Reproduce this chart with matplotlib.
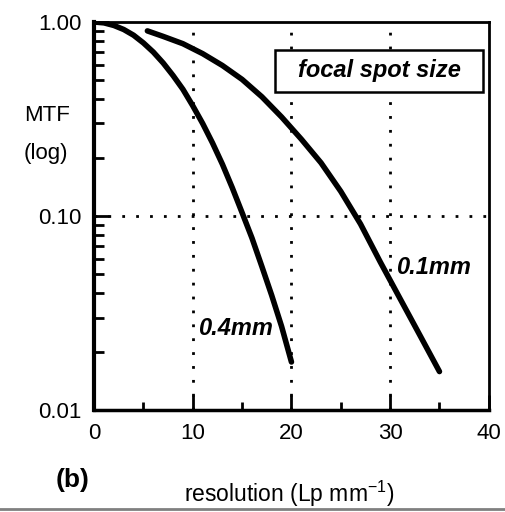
import numpy as np
import matplotlib
matplotlib.use('Agg')
import matplotlib.pyplot as plt
from matplotlib.ticker import FixedLocator, NullFormatter
from matplotlib.lines import Line2D
from matplotlib.patches import Rectangle

plt.rcParams['font.family'] = ['Liberation Sans', 'DejaVu Sans']

# MTF curves (resolution in Lp/mm)
res_04 = [0, 1, 2, 3, 4, 5, 6, 7, 8, 9, 10, 11, 12, 13, 14, 15, 16, 17, 18, 19, 20]
mtf_04 = [1.0, 0.99, 0.96, 0.915, 0.855, 0.78, 0.70, 0.615, 0.53, 0.45, 0.37,
          0.30, 0.238, 0.185, 0.14, 0.104, 0.077, 0.055, 0.039, 0.027, 0.0177]

res_01 = [5.4, 7, 9, 11, 13, 15, 17, 19, 21, 23, 25, 27, 29, 31, 33, 35]
mtf_01 = [0.90, 0.843, 0.773, 0.687, 0.597, 0.506, 0.412, 0.324, 0.249, 0.188,
          0.134, 0.091, 0.058, 0.0376, 0.0244, 0.0158]

curve_labels = ['0.4mm', '0.1mm']
x_ticks = [0, 10, 20, 30, 40]
y_ticks = [0.01, 0.10, 1.00]
y_tick_labels = ['0.01', '0.10', '1.00']

fig = plt.figure(figsize=(5.06, 5.12), dpi=100)
ax = fig.add_axes([0.186, 0.199, 0.780, 0.758])

ax.plot(res_04, mtf_04, 'k-', lw=4, solid_capstyle='round', solid_joinstyle='round')
ax.plot(res_01, mtf_01, 'k-', lw=4, solid_capstyle='round', solid_joinstyle='round')

ax.set_yscale('log')
ax.set_xlim(0, 40)
ax.set_ylim(0.01, 1.0)

# dotted grid at 10/20/30 and 0.1
for xv in [10, 20, 30]:
    ax.axvline(xv, color='k', lw=2, ls=(0, (1, 4)), zorder=0)
ax.axhline(0.1, color='k', lw=2, ls=(0, (1, 4)), zorder=0)

ax.xaxis.set_major_locator(FixedLocator(x_ticks))
ax.xaxis.set_minor_locator(FixedLocator([5, 15, 25, 35]))
ax.set_xticklabels([str(v) for v in x_ticks])
ax.yaxis.set_major_locator(FixedLocator(y_ticks))
ax.yaxis.set_minor_locator(FixedLocator([a * b for b in [0.01, 0.1] for a in range(2, 10)]))
ax.yaxis.set_minor_formatter(NullFormatter())
ax.set_yticklabels(y_tick_labels)

ax.tick_params(axis='both', which='major', direction='in', labelsize=16, width=2)
ax.tick_params(axis='x', which='major', length=11, pad=9)
ax.tick_params(axis='x', which='minor', direction='in', length=6, width=2)
ax.tick_params(axis='y', which='major', length=11, pad=9)
ax.tick_params(axis='y', which='minor', direction='in', length=7, width=2)
ax.tick_params(right=False, top=False, which='both')

ax.spines['left'].set_linewidth(3)
ax.spines['bottom'].set_linewidth(2.5)
ax.spines['top'].set_linewidth(2)
ax.spines['right'].set_linewidth(2)

# curve labels
ax.text(10.5, 0.0262, curve_labels[0], fontsize=17, fontweight='bold', fontstyle='italic', va='center')
ax.text(30.6, 0.054, curve_labels[1], fontsize=17, fontweight='bold', fontstyle='italic', va='center')

# legend-like box
ax.add_patch(Rectangle((0.459, 0.820), 0.527, 0.108, transform=ax.transAxes,
                       fc='white', ec='k', lw=1.8, zorder=3))
ax.text(0.722, 0.874, 'focal spot size', transform=ax.transAxes, fontsize=17,
        fontweight='bold', fontstyle='italic', ha='center', va='center', zorder=4)

fig.text(0.093, 0.775, 'MTF', fontsize=16, ha='center', va='center')
fig.text(0.090, 0.700, '(log)', fontsize=16, ha='center', va='center')
fig.text(0.144, 0.062, '(b)', fontsize=19, fontweight='bold', ha='center', va='center')
fig.text(0.571, 0.036, 'resolution (Lp mm$^{\\mathregular{-1}}$)', fontsize=16.5, ha='center', va='center')

fig.add_artist(Line2D([0, 1], [0.006, 0.006], transform=fig.transFigure, color='0.5', lw=2))

fig.savefig('out.png', dpi=100, facecolor='white')
